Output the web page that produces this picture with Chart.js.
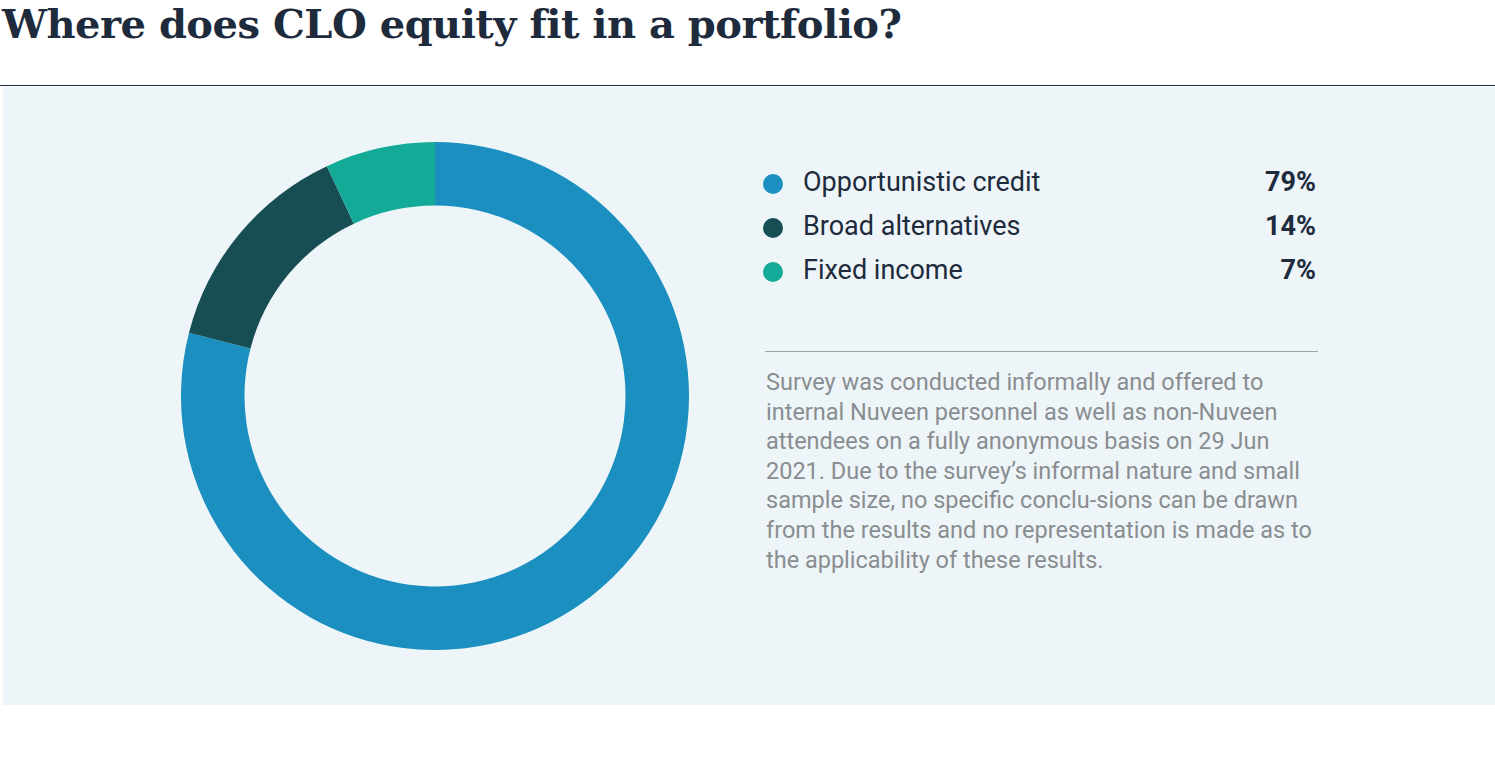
<!DOCTYPE html>
<html><head><meta charset="utf-8">
<script src="https://cdn.jsdelivr.net/npm/chart.js"></script>
<style>
body{margin:0;width:1495px;height:765px;background:#fff;position:relative;overflow:hidden;font-family:"Liberation Sans Narrow","Roboto",sans-serif;}
#title{position:absolute;left:2px;top:0px;font-family:"DejaVu Serif",serif;font-weight:bold;font-size:40px;color:#1e2b3c;letter-spacing:-0.5px;}
#rule{position:absolute;left:0;top:85px;width:1495px;height:1px;background:#1e2b3c;}
#panel{position:absolute;left:3px;top:87px;width:1492px;height:618px;background:#edf5f9;}
#cw{position:absolute;left:181px;top:142px;width:508px;height:508px;}
.row{position:absolute;left:763px;width:553px;height:34px;font-family:"Roboto",sans-serif;font-size:27px;color:#1e2b3c;}
.dot{position:absolute;left:0;top:8px;width:20px;height:20px;border-radius:50%;}
.lab{position:absolute;left:40px;top:0;}
.val{position:absolute;right:0;top:0;font-weight:bold;}
#sep{position:absolute;left:765px;top:351px;width:553px;height:1px;background:#a0a4a8;}
#note{position:absolute;left:766px;top:368px;width:560px;font-size:23.5px;line-height:29.6px;color:#8a8d90;}
</style></head><body>
<div id="title">Where does CLO equity fit in a portfolio?</div>
<div id="rule"></div>
<div id="panel"></div>
<div id="cw"><canvas id="c"></canvas></div>
<div id="legend"></div>
<div id="sep"></div>
<div id="note">Survey was conducted informally and offered to internal Nuveen personnel as well as non-Nuveen attendees on a fully anonymous basis on 29 Jun 2021. Due to the survey’s informal nature and small sample size, no specific conclu-sions can be drawn from the results and no representation is made as to the applicability of these results.</div>
<script>
const categories=["Opportunistic credit","Broad alternatives","Fixed income"];
const values=[79,14,7];
const colors=["#1a8fc0","#164e54","#13ab97"];
const lg=document.getElementById('legend');
categories.forEach((c,i)=>{
  const r=document.createElement('div');r.className='row';r.style.top=(166+i*44)+'px';
  r.innerHTML=`<div class="dot" style="background:${colors[i]}"></div><div class="lab">${c}</div><div class="val">${values[i]}%</div>`;
  lg.appendChild(r);
});
new Chart(document.getElementById('c'),{type:'doughnut',
 data:{labels:categories,datasets:[{data:values,backgroundColor:colors,borderWidth:0}]},
 options:{responsive:true,maintainAspectRatio:false,animation:false,cutout:'75%',
  plugins:{legend:{display:false},tooltip:{enabled:false}},layout:{padding:0}}});
</script>
</body></html>
